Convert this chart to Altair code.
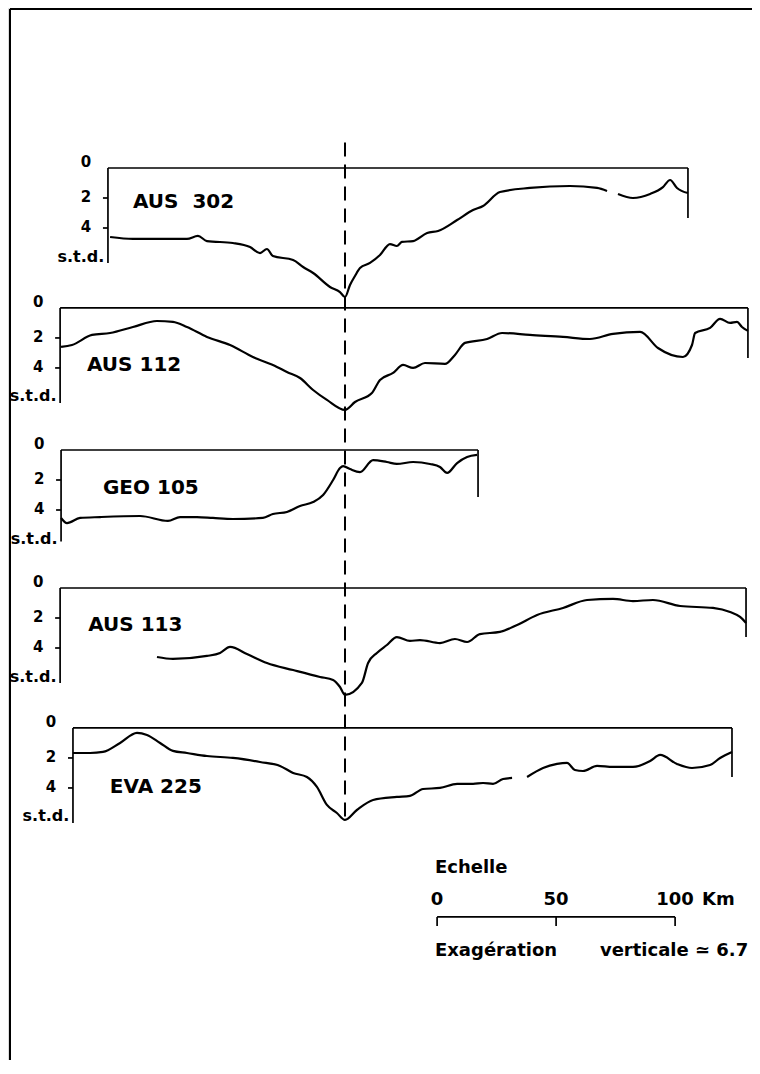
import altair as alt
import pandas as pd

# ---------------- data: distance (km, 0 = dashed axis) and depth (s.t.d.) ----------------
AUS302_KM = [-98.7, -89.1, -77.7, -66.4, -61.8, -58.0, -47.1, -39.9, -35.7, -32.8,
             -30.3, -21.8, -17.6, -13.4, -6.3, -2.1, 0.0, 2.1, 4.2, 6.3,
             10.5, 14.7, 18.9, 21.8, 23.9, 28.6, 34.5, 39.1, 47.1, 53.8,
             58.0, 65.1, 77.7, 94.5, 105.9, 110.1]
AUS302_STD = [4.60, 4.73, 4.73, 4.73, 4.53, 4.87, 5.00, 5.27, 5.67, 5.40,
              5.87, 6.13, 6.60, 7.00, 7.93, 8.27, 8.60, 7.80, 7.20, 6.67,
              6.33, 5.80, 5.07, 5.20, 4.93, 4.87, 4.33, 4.20, 3.47, 2.80,
              2.53, 1.60, 1.33, 1.20, 1.33, 1.53]
AUS302B_KM = [114.7, 121.0, 128.2, 133.6, 136.6, 139.5, 144.1]
AUS302B_STD = [1.73, 2.00, 1.73, 1.27, 0.80, 1.33, 1.67]

AUS112_KM = [-119.3, -114.7, -106.3, -98.7, -89.1, -79.0, -72.3, -66.4, -58.0, -48.3,
             -38.7, -28.6, -24.4, -18.9, -13.4, -7.6, 0.0, 4.2, 11.3, 14.7,
             20.2, 24.4, 28.6, 33.6, 42.0, 46.2, 50.4, 59.7, 66.0, 77.7,
             91.6, 102.9, 112.6, 124.0, 131.5, 142.0, 145.8, 147.1, 153.4, 157.6,
             161.8, 164.7, 166.8, 169.3]
AUS112_STD = [2.60, 2.47, 1.80, 1.67, 1.27, 0.87, 0.93, 1.27, 1.93, 2.47,
              3.27, 3.93, 4.27, 4.67, 5.47, 6.13, 6.80, 6.27, 5.67, 4.80,
              4.33, 3.80, 4.00, 3.67, 3.73, 3.13, 2.33, 2.07, 1.67, 1.80,
              1.93, 2.07, 1.73, 1.60, 2.67, 3.27, 2.47, 1.67, 1.33, 0.73,
              1.00, 0.93, 1.27, 1.53]

GEO105_KM = [-119.3, -116.8, -111.3, -102.9, -86.1, -74.4, -69.3, -62.2, -55.5, -47.1,
             -34.5, -30.3, -24.4, -18.9, -13.4, -9.2, -5.0, -2.1, -0.8, 2.1,
             6.3, 11.8, 17.6, 21.8, 28.6, 35.7, 39.9, 42.9, 47.1, 51.3,
             55.5]
GEO105_STD = [4.53, 4.87, 4.53, 4.47, 4.40, 4.73, 4.47, 4.47, 4.53, 4.60,
              4.53, 4.27, 4.13, 3.73, 3.47, 3.00, 2.00, 1.20, 1.07, 1.27,
              1.47, 0.67, 0.80, 0.93, 0.80, 0.93, 1.13, 1.53, 0.87, 0.47,
              0.33]

AUS113_KM = [-79.0, -72.3, -58.0, -52.5, -48.3, -41.2, -32.8, -21.8, -10.5, -5.0,
             -2.1, 0.0, 7.1, 9.7, 13.4, 17.6, 21.8, 27.3, 31.5, 39.9,
             46.2, 51.3, 56.7, 65.1, 72.3, 80.7, 91.6, 101.7, 112.6, 121.0,
             129.4, 140.8, 154.6, 161.8, 166.0, 168.5]
AUS113_STD = [4.60, 4.73, 4.53, 4.33, 3.93, 4.40, 5.00, 5.47, 5.93, 6.13,
              6.60, 7.13, 6.33, 5.00, 4.33, 3.80, 3.27, 3.53, 3.47, 3.67,
              3.40, 3.60, 3.07, 2.93, 2.47, 1.80, 1.33, 0.80, 0.73, 0.87,
              0.80, 1.20, 1.33, 1.60, 1.93, 2.33]

EVA225_KM = [-114.3, -107.1, -101.7, -94.5, -87.4, -83.2, -77.7, -72.3, -66.4, -58.0,
             -47.1, -35.7, -27.3, -21.8, -16.0, -11.8, -7.6, -3.4, 0.0, 5.0,
             11.8, 21.8, 27.3, 32.8, 39.9, 47.1, 53.8, 58.0, 62.2, 66.4,
             70.2]
EVA225_STD = [1.67, 1.67, 1.60, 1.00, 0.33, 0.47, 1.00, 1.53, 1.67, 1.87,
              2.00, 2.27, 2.53, 3.00, 3.27, 3.93, 5.13, 5.67, 6.13, 5.47,
              4.80, 4.60, 4.53, 4.07, 4.00, 3.73, 3.73, 3.67, 3.73, 3.40,
              3.33]
EVA225B_KM = [76.5, 83.2, 89.1, 93.3, 96.6, 100.0, 105.9, 112.6, 121.0, 128.2,
              132.4, 139.5, 145.8, 153.4, 157.6, 162.6]
EVA225B_STD = [3.27, 2.67, 2.40, 2.33, 2.80, 2.87, 2.53, 2.60, 2.60, 2.20,
               1.80, 2.40, 2.67, 2.47, 2.00, 1.60]

PANELS = ["AUS\u00a0\u00a0302", "AUS 112", "GEO 105", "AUS 113", "EVA 225"]
SEGMENTS = [  # (panel index, km list, std list)
    (0, AUS302_KM, AUS302_STD), (0, AUS302B_KM, AUS302B_STD),
    (1, AUS112_KM, AUS112_STD),
    (2, GEO105_KM, GEO105_STD),
    (3, AUS113_KM, AUS113_STD),
    (4, EVA225_KM, EVA225_STD), (4, EVA225B_KM, EVA225B_STD),
]
DEPTH_TICKS = [0, 2, 4]
UNIT_LABEL = "s.t.d."
SCALE_KM = [0, 50, 100]

# ---------------- layout ----------------
PX_PER_KM = 2.38
PX_PER_STD = 15.0
W, H = 744, 1052
AXIS_PX = 345
X_DOMAIN = [(8 - AXIS_PX) / PX_PER_KM, (8 + W - AXIS_PX) / PX_PER_KM]
Y_DOMAIN = [8 / PX_PER_STD, (8 + H) / PX_PER_STD]

PANEL_TOP = [11.2, 20.53, 30.0, 39.2, 48.53]
FRAME_LEFT = [-99.6, -119.7, -119.3, -119.7, -114.3]
FRAME_RIGHT = [144.1, 169.3, 55.9, 168.5, 162.6]
RIGHT_DROP = [3.33, 3.33, 3.13, 3.27, 3.27]
LEFT_DROP = [6.33, 6.33, 6.1, 6.33, 6.33]
NAME_DX = [10.5, 11.3, 17.6, 11.8, 15.5]
NAME_DEPTH = [2.27, 3.8, 2.53, 2.47, 3.93]
TICK_LEN = 5 / PX_PER_KM
BORDER_X = (10 - AXIS_PX) / PX_PER_KM
BORDER_Y = 9 / PX_PER_STD
SCALE_X0 = 38.7
SCALE_Y = 61.13
FONT = "DejaVu Sans"

# ---------------- tables ----------------
prof_rows = []
for si, (p, kms, stds) in enumerate(SEGMENTS):
    for i, (k, s) in enumerate(zip(kms, stds)):
        prof_rows.append({"seg": si, "o": i, "x": k, "y": PANEL_TOP[p] + s})
prof = pd.DataFrame(prof_rows)

rule_rows = []
for p in range(len(PANELS)):
    t, l, r = PANEL_TOP[p], FRAME_LEFT[p], FRAME_RIGHT[p]
    rule_rows.append({"x": l, "x2": r, "y": t, "y2": t})
    rule_rows.append({"x": l, "x2": l, "y": t, "y2": t + LEFT_DROP[p]})
    rule_rows.append({"x": r, "x2": r, "y": t, "y2": t + RIGHT_DROP[p]})
    for d in DEPTH_TICKS[1:]:
        rule_rows.append({"x": l - TICK_LEN, "x2": l, "y": t + d, "y2": t + d})
# scale bar
rule_rows.append({"x": SCALE_X0, "x2": SCALE_X0 + SCALE_KM[-1], "y": SCALE_Y, "y2": SCALE_Y})
for k in SCALE_KM:
    rule_rows.append({"x": SCALE_X0 + k, "x2": SCALE_X0 + k, "y": SCALE_Y, "y2": SCALE_Y + 0.6})
rules = pd.DataFrame(rule_rows)

border = pd.DataFrame([
    {"x": BORDER_X, "x2": X_DOMAIN[1], "y": BORDER_Y, "y2": BORDER_Y},
    {"x": BORDER_X, "x2": BORDER_X, "y": BORDER_Y, "y2": Y_DOMAIN[1]},
])
dash = pd.DataFrame([{"x": 0.0, "y": 9.5, "y2": 54.8}])

tick_lab = pd.DataFrame([
    {"x": FRAME_LEFT[p] - 7.0, "y": PANEL_TOP[p] + (d - 0.05 if d else -0.4), "t": str(d)}
    for p in range(len(PANELS)) for d in DEPTH_TICKS
])
unit_lab = pd.DataFrame([
    {"x": FRAME_LEFT[p] - 1.5, "y": PANEL_TOP[p] + 5.9, "t": UNIT_LABEL}
    for p in range(len(PANELS))
])
name_lab = pd.DataFrame([
    {"x": FRAME_LEFT[p] + NAME_DX[p], "y": PANEL_TOP[p] + NAME_DEPTH[p], "t": PANELS[p]}
    for p in range(len(PANELS))
])
scale_num = pd.DataFrame([
    {"x": SCALE_X0 + k, "y": SCALE_Y - 1.13, "t": str(k)} for k in SCALE_KM
])
scale_words = pd.DataFrame([
    {"x": SCALE_X0 - 0.9, "y": SCALE_Y - 3.26, "t": "Echelle"},
    {"x": SCALE_X0 + SCALE_KM[-1] + 11.3, "y": SCALE_Y - 1.13, "t": "Km"},
    {"x": SCALE_X0 - 0.9, "y": SCALE_Y + 2.27, "t": "Exagération"},
    {"x": SCALE_X0 + 68.4, "y": SCALE_Y + 2.27, "t": "verticale \u2243 6.7"},
])

# ---------------- encodings ----------------
XS = alt.Scale(domain=X_DOMAIN, nice=False, zero=False)
YS = alt.Scale(domain=Y_DOMAIN, nice=False, zero=False, reverse=True)


def X(f="x"):
    return alt.X(f"{f}:Q", scale=XS, axis=None)


def Y(f="y"):
    return alt.Y(f"{f}:Q", scale=YS, axis=None)


lines = alt.Chart(prof).mark_line(color="black", strokeWidth=2.2, strokeJoin="round",
                                  interpolate="monotone").encode(
    x=X(), y=Y(), detail="seg:N", order="o:Q")

frame = alt.Chart(rules).mark_rule(color="black", strokeWidth=1.7).encode(
    x=X(), x2="x2:Q", y=Y(), y2="y2:Q")

brd = alt.Chart(border).mark_rule(color="black", strokeWidth=2).encode(
    x=X(), x2="x2:Q", y=Y(), y2="y2:Q")

dashed = alt.Chart(dash).mark_rule(color="black", strokeWidth=2, strokeDash=[14, 8]).encode(
    x=X(), y=Y(), y2="y2:Q")


def txt(df, size, align):
    return alt.Chart(df).mark_text(font=FONT, fontWeight="bold", fontSize=size, align=align,
                                   baseline="middle", color="black").encode(
        x=X(), y=Y(), text="t:N")


chart = alt.layer(
    brd, dashed, frame, lines,
    txt(tick_lab, 15, "right"),
    txt(unit_lab, 16, "right"),
    txt(name_lab, 20, "left"),
    txt(scale_num, 18, "center"),
    txt(scale_words, 18, "left"),
).properties(
    width=W, height=H, padding=0,
    autosize=alt.AutoSizeParams(type="none"),
).configure_view(stroke=None).configure(background="white")

chart.save("out.html", embed_options={"renderer": "svg", "actions": False})
